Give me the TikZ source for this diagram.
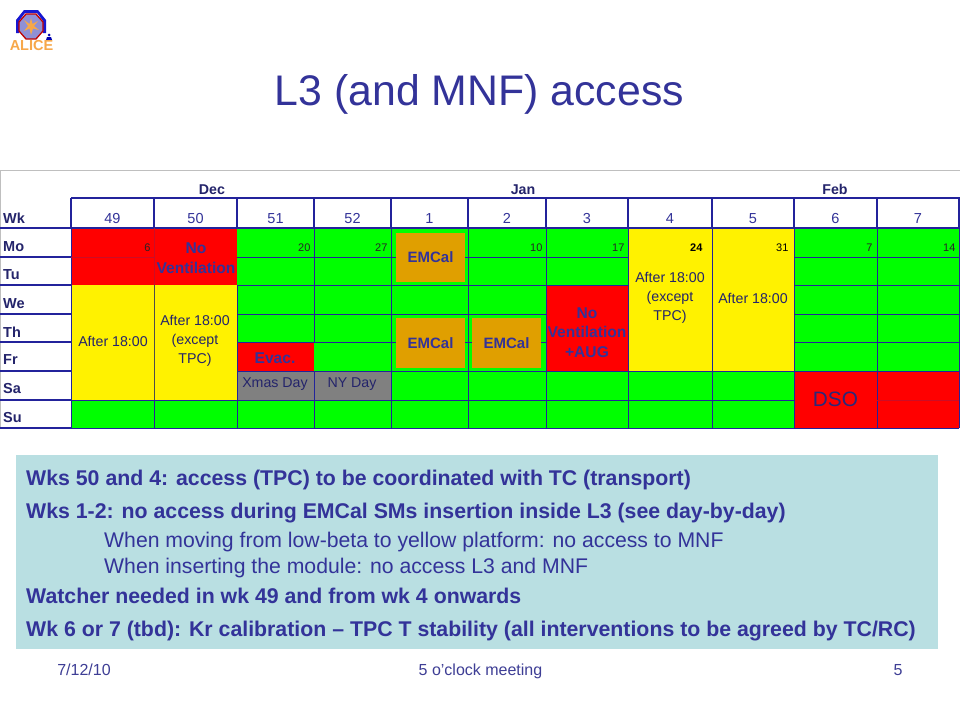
\documentclass[tikz,border=0pt]{standalone}
\usepackage{fontspec}
\setmainfont{Liberation Sans}
\definecolor{navy}{HTML}{333399}
\definecolor{gridline}{HTML}{23239B}
\definecolor{emgreen}{HTML}{00FF00}
\definecolor{emorange}{HTML}{E09F00}
\definecolor{xgray}{HTML}{808080}
\definecolor{panel}{HTML}{B9DFE2}
\definecolor{aliceorange}{HTML}{F7A84A}
\begin{document}
\begin{tikzpicture}[x=1pt, y=-1pt, grid line/.style={draw=gridline,line width=0.9pt},
                    thick line/.style={draw=gridline,line width=1.3pt},
                    cell text/.style={font=\fontsize{14.2}{19}\selectfont,text=navy!70!black,align=center,inner sep=0pt},
                    day num/.style={font=\fontsize{11}{12}\selectfont,text=black!85,anchor=east},
                    wk num/.style={font=\fontsize{14.5}{16}\selectfont,text=navy,anchor=base,inner sep=0pt},
                    row name/.style={font=\fontsize{14.5}{16}\selectfont\bfseries,text=navy!70!black,anchor=west,inner sep=0pt},
                    month name/.style={font=\fontsize{14.2}{16}\selectfont\bfseries,text=navy!70!black,anchor=base,inner sep=0pt},
                    alert text/.style={font=\fontsize{15.6}{19.5}\selectfont\bfseries,text=navy,align=center,inner sep=0pt},
                    emcal box/.style={fill=emorange,minimum width=69pt,font=\fontsize{15}{16}\selectfont\bfseries,text=navy,inner sep=0pt},
                    panel bold/.style={font=\fontsize{21.3}{24}\selectfont\bfseries,text=navy,anchor=base west,inner sep=0pt},
                    panel plain/.style={font=\fontsize{21.2}{24}\selectfont,text=navy,anchor=base west,inner sep=0pt},
                    foot text/.style={font=\fontsize{16}{18}\selectfont,text=navy!85!gray,anchor=base,inner sep=0pt}]
  \useasboundingbox (0,0) rectangle (960,720);
  \fill[white] (0,0) rectangle (960,720);

  % logo
  \fill[blue!55!navy] (24,10) -- (38,10) -- (46,20) -- (46,33) -- (43,33) -- (43,21) -- (37,13) -- (25,13) -- (19,21) -- (19,33) -- (16,33) -- (16,20) -- cycle;
  \filldraw[draw=red!75!black,fill=gray!55!blue!60,line width=1.3pt] (26,14) -- (36,14) -- (43,22) -- (43,31) -- (36,39) -- (26,39) -- (19,31) -- (19,22) -- cycle;
  \fill[aliceorange] (31,18) -- (32.5,24) -- (38,21) -- (34,26) -- (39,30) -- (33,28.5) -- (31,35) -- (29.5,28.5) -- (24,31) -- (28,26) -- (24,20) -- (29.5,24) -- cycle;
  \fill[blue!70!black] (49,35) circle (1.5) (47,37) -- (51,37) -- (52,40) -- (46,40) -- cycle;
  \node[inner sep=0pt,font=\fontsize{14.5}{15}\selectfont\bfseries,text=aliceorange] (logotext) at (31.5,45.5) {ALICE};

  \node[inner sep=0pt,anchor=base,font=\fontsize{42.8}{46}\selectfont,text=navy] (title) at (479.5,105) {L3 (and MNF) access};

  % cell colours
  \fill[emgreen] (237,228) rectangle (959,428);
  \fill[emgreen] (71,400) rectangle (237,428);
  \fill[red] (71,228) rectangle (237,285);
  \fill[yellow] (71,285) rectangle (237,400);
  \fill[red] (237,342) rectangle (314,371);
  \fill[xgray] (237,371) rectangle (391,400);
  \fill[red] (546,285) rectangle (628,371);
  \fill[yellow] (628,228) rectangle (794,371);
  \fill[red] (794,371) rectangle (959,428);

  % table frame
  \draw[gray!50,line width=1pt] (0,428) -- (0,170) -- (960,170);
  \path[thick line] (71,198) -- (959,198) -- (959,228) (71,228) -- (71,198);
  \path[thick line] (0,228) -- (959,228) (0,257) -- (71,257) (0,285) -- (71,285) (0,314) -- (71,314)
    (0,342) -- (71,342) (0,371) -- (71,371) (0,400) -- (71,400) (0,428) -- (71,428);
  \path[thick line] (154,198) -- (154,228) (237,198) -- (237,228) (314,198) -- (314,228) (391,198) -- (391,228)
    (468,198) -- (468,228) (546,198) -- (546,228) (628,198) -- (628,228) (712,198) -- (712,228)
    (794,198) -- (794,228) (877,198) -- (877,228);

  % grid inside
  \path[grid line] (237,257) -- (628,257) (794,257) -- (959,257);
  \path[grid line] (237,285) -- (628,285) (794,285) -- (959,285);
  \path[grid line] (237,314) -- (546,314) (794,314) -- (959,314);
  \path[grid line] (237,342) -- (546,342) (794,342) -- (959,342);
  \path[grid line] (237,371) -- (959,371);
  \path[grid line] (71,400) -- (794,400) (877,400) -- (959,400);
  \path[grid line] (71,428) -- (959,428);
  \path[grid line] (71,228) -- (71,428) (237,285) -- (237,428) (314,228) -- (314,342) (314,371) -- (314,428) (391,228) -- (391,428)
    (468,228) -- (468,428) (546,228) -- (546,428) (628,228) -- (628,428) (712,228) -- (712,428)
    (794,228) -- (794,428) (877,228) -- (877,428) (959,228) -- (959,428);
  \draw[gray!60!black,line width=0.9pt] (154,285) -- (154,400);
  \path[grid line] (154,400) -- (154,428);
  \draw[red!75!navy,line width=0.6pt] (71,257) -- (154,257) (154,228) -- (154,285) (877,400) -- (959,400);

  % table headings
  \node[month name] (dec) at (212,194) {Dec};
  \node[month name] (jan) at (523,194) {Jan};
  \node[month name] (feb) at (835,194) {Feb};
  \node[row name] (wk) at (3,218) {Wk};
  \node[row name] (mo) at (3,247) {Mo};
  \node[row name] (tu) at (3,275) {Tu};
  \node[row name] (we) at (3,304) {We};
  \node[row name] (th) at (3,332) {Th};
  \node[row name] (fr) at (3,360) {Fr};
  \node[row name] (sa) at (3,389) {Sa};
  \node[row name] (su) at (3,418) {Su};
  \node[wk num] (w49) at (112.5,223) {49};
  \node[wk num] (w50) at (195.5,223) {50};
  \node[wk num] (w51) at (275.5,223) {51};
  \node[wk num] (w52) at (352.5,223) {52};
  \node[wk num] (w1) at (429.5,223) {1};
  \node[wk num] (w2) at (507,223) {2};
  \node[wk num] (w3) at (587,223) {3};
  \node[wk num] (w4) at (670,223) {4};
  \node[wk num] (w5) at (753,223) {5};
  \node[wk num] (w6) at (835.5,223) {6};
  \node[wk num] (w7) at (918,223) {7};

  % day numbers
  \node[day num] (d6) at (154,248) {6};
  \node[day num] (d20) at (314,248) {20};
  \node[day num] (d27) at (391,248) {27};
  \node[day num] (d10) at (546,248) {10};
  \node[day num] (d17) at (628,248) {17};
  \node[day num,text=black,font=\fontsize{11}{12}\selectfont\bfseries] (d24) at (706,248) {24};
  \node[day num,text=black] (d31) at (792,248) {31};
  \node[day num] (d7) at (876,248) {7};
  \node[day num] (d14) at (959,248) {14};

  % cell labels
  \node[alert text] (novent) at (196,258) {No\\Ventilation};
  \node[cell text] (after49) at (113,341) {After 18:00};
  \node[cell text] (after50) at (195,341) {After 18:00\\(except\\TPC)};
  \node[alert text] (evac) at (275,358) {Evac.};
  \node[cell text] (xmas) at (275,384.5) {Xmas Day};
  \node[cell text] (nyday) at (352,384.5) {NY Day};
  \node[emcal box,minimum height=49pt] (em1) at (430.5,257.5) {EMCal};
  \node[emcal box,minimum height=50pt] (em2) at (430.5,343) {EMCal};
  \node[emcal box,minimum height=50pt] (em3) at (506.5,343) {EMCal};
  \node[alert text] (noaug) at (587,332.5) {No\\Ventilation\\+AUG};
  \node[cell text] (after4) at (670,298) {After 18:00\\(except\\TPC)};
  \node[cell text] (after5) at (753,298) {After 18:00};
  \node[inner sep=0pt,font=\fontsize{20.8}{22}\selectfont,text=navy!80!black] (dso) at (835.5,399.5) {DSO};

  % notes panel
  \fill[panel] (16,455) rectangle (938,649);
  \node[panel bold] (line1) at (26,485) {Wks 50 and 4: access (TPC) to be coordinated with TC (transport)};
  \node[panel bold] (line2) at (26,518) {Wks 1-2: no access during EMCal SMs insertion inside L3 (see day-by-day)};
  \node[panel plain] (line3) at (104,547) {When moving from low-beta to yellow platform: no access to MNF};
  \node[panel plain] (line4) at (104,573) {When inserting the module: no access L3 and MNF};
  \node[panel bold] (line5) at (26,603) {Watcher needed in wk 49 and from wk 4 onwards};
  \node[panel bold] (line6) at (26,636) {Wk 6 or 7 (tbd): Kr calibration – TPC T stability (all interventions to be agreed by TC/RC)};

  % footer
  \node[foot text] (date) at (84,675) {7/12/10};
  \node[foot text] (meeting) at (480.5,675) {5 o’clock meeting};
  \node[foot text] (page) at (898,675) {5};
\end{tikzpicture}
\end{document}
